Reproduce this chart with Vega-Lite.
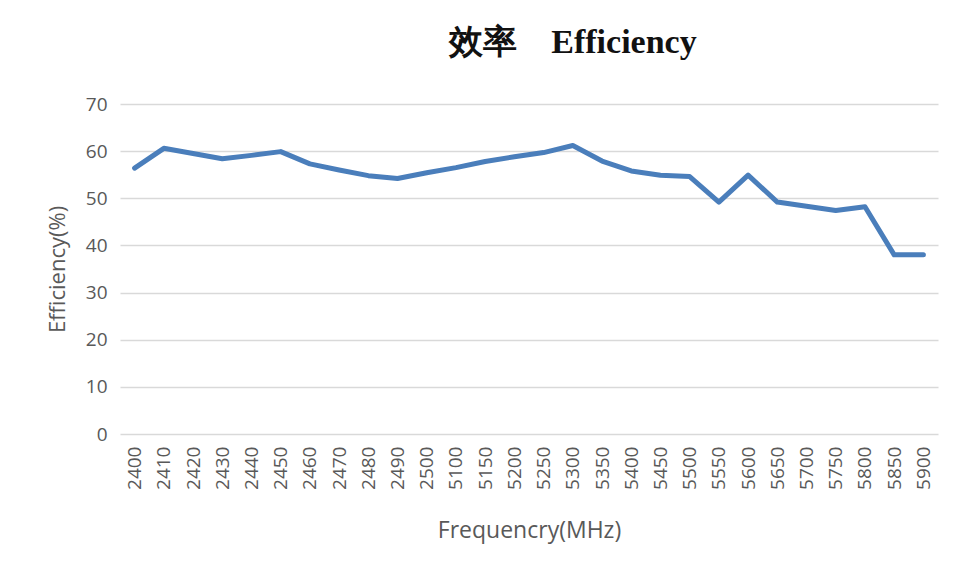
{
  "$schema": "https://vega.github.io/schema/vega-lite/v6.json",
  "autosize": {"type": "none"},
  "width": 818,
  "height": 330,
  "padding": {"left": 120, "top": 104, "right": 16, "bottom": 144},
  "background": "white",
  "title": {
    "text": "效率\u00a0\u00a0\u00a0\u00a0Efficiency",
    "font": "Liberation Serif",
    "fontSize": 34,
    "fontWeight": "bold",
    "color": "#111111",
    "anchor": "middle",
    "dx": 44,
    "offset": 8,
    "baseline": "alphabetic"
  },
  "data": {
    "values": [
      {"freq": "2400", "eff": 56.4},
      {"freq": "2410", "eff": 60.6},
      {"freq": "2420", "eff": 59.5},
      {"freq": "2430", "eff": 58.4},
      {"freq": "2440", "eff": 59.1},
      {"freq": "2450", "eff": 59.9},
      {"freq": "2460", "eff": 57.3},
      {"freq": "2470", "eff": 56.0},
      {"freq": "2480", "eff": 54.8},
      {"freq": "2490", "eff": 54.2},
      {"freq": "2500", "eff": 55.4},
      {"freq": "5100", "eff": 56.5},
      {"freq": "5150", "eff": 57.8},
      {"freq": "5200", "eff": 58.8},
      {"freq": "5250", "eff": 59.7},
      {"freq": "5300", "eff": 61.2},
      {"freq": "5350", "eff": 57.9},
      {"freq": "5400", "eff": 55.8},
      {"freq": "5450", "eff": 54.9},
      {"freq": "5500", "eff": 54.6},
      {"freq": "5550", "eff": 49.2},
      {"freq": "5600", "eff": 54.9},
      {"freq": "5650", "eff": 49.2},
      {"freq": "5700", "eff": 48.3},
      {"freq": "5750", "eff": 47.4},
      {"freq": "5800", "eff": 48.2},
      {"freq": "5850", "eff": 38.0},
      {"freq": "5900", "eff": 38.0}
    ]
  },
  "mark": {"type": "line", "color": "#4a7ebb", "strokeWidth": 5, "strokeJoin": "round", "strokeCap": "round"},
  "encoding": {
    "x": {
      "field": "freq",
      "type": "ordinal",
      "sort": null,
      "scale": {"type": "point", "padding": 0.5},
      "axis": {
        "title": "Frequencry(MHz)",
        "labelAngle": -90,
        "labelFont": "Open Sans",
        "labelFontSize": 19,
        "labelColor": "#595959",
        "labelPadding": 12,
        "ticks": false,
        "domain": false,
        "grid": false,
        "titleFont": "Open Sans",
        "titleFontSize": 23,
        "titleFontWeight": "normal",
        "titleColor": "#595959",
        "titlePadding": 30
      }
    },
    "y": {
      "field": "eff",
      "type": "quantitative",
      "scale": {"domain": [0, 70], "nice": false},
      "axis": {
        "title": "Efficiency(%)",
        "values": [0, 10, 20, 30, 40, 50, 60, 70],
        "labelFont": "Open Sans",
        "labelFontSize": 19,
        "labelColor": "#595959",
        "labelPadding": 13,
        "ticks": false,
        "domain": false,
        "grid": true,
        "gridColor": "#d9d9d9",
        "gridWidth": 1.5,
        "titleFont": "Open Sans",
        "titleFontSize": 22,
        "titleFontWeight": "normal",
        "titleColor": "#595959",
        "titlePadding": 16
      }
    }
  },
  "config": {"view": {"stroke": null}}
}
